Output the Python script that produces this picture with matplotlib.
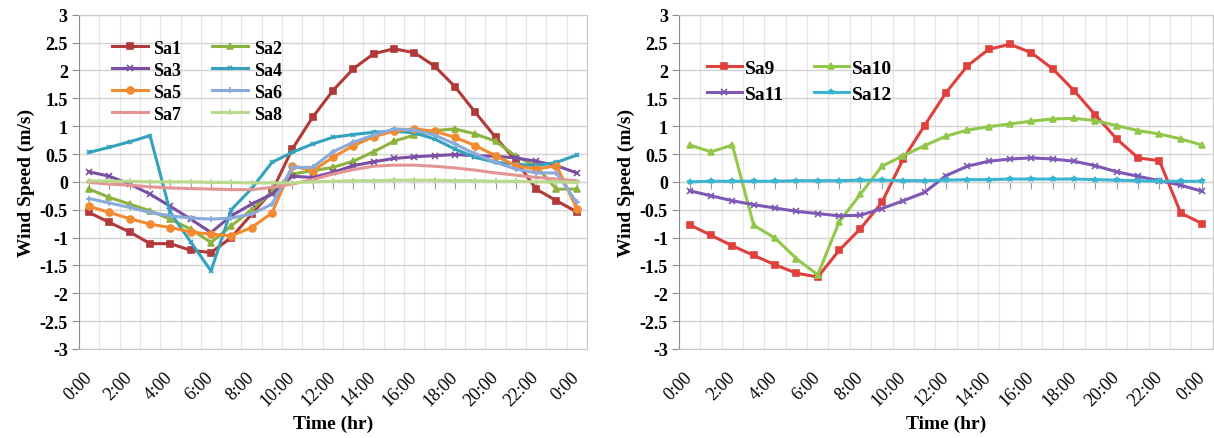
import numpy as np
import matplotlib
matplotlib.use("Agg")
import matplotlib.pyplot as plt
import matplotlib.transforms as mtransforms

plt.rcParams['font.family'] = ['Liberation Serif', 'DejaVu Serif']
plt.rcParams['axes.unicode_minus'] = False

hours = np.arange(25)
xtick_pos = list(range(0, 25, 2))
xtick_labels = ['0:00', '2:00', '4:00', '6:00', '8:00', '10:00', '12:00',
                '14:00', '16:00', '18:00', '20:00', '22:00', '0:00']
ytick_pos = [-3, -2.5, -2, -1.5, -1, -0.5, 0, 0.5, 1, 1.5, 2, 2.5, 3]
ytick_labels = ['-3', '-2.5', '-2', '-1.5', '-1', '-0.5', '0', '0.5', '1', '1.5', '2', '2.5', '3']

# left chart
sa1 = [-0.55, -0.73, -0.90, -1.11, -1.11, -1.23, -1.27, -1.00, -0.58, -0.17, 0.59, 1.16, 1.64,
       2.03, 2.30, 2.39, 2.32, 2.08, 1.71, 1.25, 0.80, 0.38, -0.13, -0.34, -0.54]
sa2 = [-0.13, -0.28, -0.40, -0.52, -0.67, -0.85, -1.09, -0.79, -0.50, -0.18, 0.14, 0.20, 0.26,
       0.37, 0.54, 0.73, 0.84, 0.92, 0.95, 0.86, 0.73, 0.46, 0.28, -0.13, -0.13]
sa3 = [0.18, 0.10, -0.04, -0.22, -0.44, -0.67, -0.91, -0.61, -0.40, -0.22, 0.10, 0.08, 0.17,
       0.29, 0.36, 0.42, 0.45, 0.47, 0.49, 0.47, 0.46, 0.43, 0.37, 0.29, 0.16]
sa4 = [0.53, 0.62, 0.72, 0.83, -0.55, -1.08, -1.60, -0.50, -0.12, 0.35, 0.53, 0.68, 0.80,
       0.85, 0.89, 0.91, 0.88, 0.77, 0.59, 0.44, 0.35, 0.32, 0.29, 0.35, 0.48]
sa5 = [-0.44, -0.55, -0.66, -0.76, -0.82, -0.90, -0.94, -0.97, -0.82, -0.56, 0.29, 0.20, 0.44,
       0.65, 0.81, 0.91, 0.95, 0.91, 0.80, 0.65, 0.47, 0.29, 0.23, 0.29, -0.48]
sa6 = [-0.30, -0.38, -0.46, -0.55, -0.61, -0.65, -0.67, -0.65, -0.58, -0.40, 0.26, 0.26, 0.54,
       0.71, 0.84, 0.95, 0.93, 0.84, 0.68, 0.50, 0.35, 0.23, 0.16, 0.16, -0.37]
sa7 = [-0.01, -0.04, -0.06, -0.09, -0.11, -0.12, -0.13, -0.14, -0.14, -0.10, -0.04, 0.04, 0.14,
       0.22, 0.28, 0.30, 0.30, 0.28, 0.25, 0.21, 0.16, 0.12, 0.08, 0.05, 0.02]
sa8 = [0.02, 0.01, 0.01, 0.0, 0.0, 0.0, -0.01, -0.01, -0.02, -0.02, -0.02, 0.0, 0.01,
       0.02, 0.02, 0.03, 0.03, 0.03, 0.02, 0.02, 0.01, 0.01, 0.0, 0.0, -0.01]

# right chart
sa9 = [-0.77, -0.96, -1.15, -1.32, -1.49, -1.64, -1.71, -1.23, -0.84, -0.37, 0.41, 1.01, 1.60,
       2.08, 2.38, 2.47, 2.32, 2.03, 1.64, 1.20, 0.77, 0.43, 0.38, -0.56, -0.75]
sa10 = [0.66, 0.54, 0.66, -0.78, -1.01, -1.38, -1.67, -0.72, -0.22, 0.28, 0.47, 0.65, 0.82,
        0.93, 0.99, 1.04, 1.09, 1.13, 1.14, 1.10, 1.01, 0.92, 0.86, 0.77, 0.66]
sa11 = [-0.16, -0.25, -0.34, -0.41, -0.47, -0.53, -0.57, -0.61, -0.60, -0.48, -0.34, -0.19, 0.11,
        0.28, 0.37, 0.41, 0.43, 0.41, 0.37, 0.29, 0.18, 0.10, 0.02, -0.06, -0.17]
sa12 = [0.0, 0.01, 0.01, 0.01, 0.01, 0.02, 0.02, 0.02, 0.03, 0.03, 0.02, 0.02, 0.03,
        0.04, 0.04, 0.05, 0.05, 0.05, 0.05, 0.04, 0.03, 0.02, 0.01, 0.01, 0.01]

left_series = [
    ('Sa1', sa1, '#b13a38', 's', 5),
    ('Sa2', sa2, '#8db33f', '^', 5),
    ('Sa3', sa3, '#7a4fa3', 'x', 4),
    ('Sa4', sa4, '#33a2bd', 'x', 3),
    ('Sa5', sa5, '#f28a30', 'o', 5),
    ('Sa6', sa6, '#89aadb', '+', 4),
    ('Sa7', sa7, '#e39495', '_', 4),
    ('Sa8', sa8, '#b9d98c', '+', 4),
]
right_series = [
    ('Sa9', sa9, '#e0403c', 's', 5),
    ('Sa10', sa10, '#92c84a', '^', 5),
    ('Sa11', sa11, '#7d58b5', 'x', 4),
    ('Sa12', sa12, '#3cb5d0', '*', 4),
]

fig = plt.figure(figsize=(12.14, 4.39), dpi=100)
ax1 = fig.add_axes([0.065, 0.203, 0.4185, 0.761])
ax2 = fig.add_axes([0.5593, 0.203, 0.4397, 0.761])


def style_axes(ax):
    ax.set_xlim(-0.5, 24.5)
    ax.set_ylim(-3, 3)
    ax.set_yticks(ytick_pos)
    ax.set_yticklabels(ytick_labels, fontsize=13, fontweight='bold')
    ax.set_xticks(xtick_pos)
    ax.set_xticklabels(xtick_labels, fontsize=13, rotation=45, ha='right')
    ax.set_xticks(np.arange(-0.5, 25, 1), minor=True)
    ax.tick_params(axis='x', which='both', length=0, pad=14)
    ax.tick_params(axis='y', length=5, color='#8c8c8c', pad=3)
    ax.grid(axis='y', which='major', color='#d4d4d4', lw=1.0)
    ax.grid(axis='x', which='minor', color='#e6e6e6', lw=0.9)
    ax.set_axisbelow(True)
    for s in ax.spines.values():
        s.set_color('#c8c8c8')
    ax.spines['left'].set_color('#8c8c8c')
    off = mtransforms.ScaledTranslation(6 / 100, 0, fig.dpi_scale_trans)
    for lab in ax.get_xticklabels():
        lab.set_transform(lab.get_transform() + off)
    # horizontal axis crossing at zero
    sec = ax.secondary_xaxis(0.5)
    sec.set_alignment('bottom')
    sec.set_xticks(hours)
    sec.tick_params(axis='x', length=5, color='#9a9a9a', labelbottom=False, labeltop=False)
    sec.spines['bottom'].set_color('#9a9a9a')
    ax.set_xlabel('Time (hr)', fontsize=14, fontweight='bold', labelpad=4)
    ax.set_ylabel('Wind Speed (m/s)', fontsize=14, fontweight='bold', labelpad=3)


handles = {}
for ax, series in ((ax1, left_series), (ax2, right_series)):
    style_axes(ax)
    for name, vals, col, mk, ms in series:
        line, = ax.plot(hours, vals, color=col, lw=2.2, marker=mk, markersize=ms,
                        markeredgewidth=1.2, label=name)
        handles[name] = line

# legend filled row by row like the original
left_order = ['Sa1', 'Sa3', 'Sa5', 'Sa7', 'Sa2', 'Sa4', 'Sa6', 'Sa8']
right_order = ['Sa9', 'Sa11', 'Sa10', 'Sa12']

ax1.legend([handles[n] for n in left_order], left_order,
           ncol=2, loc='upper left', bbox_to_anchor=(0.065, 0.926), frameon=False,
           borderpad=0, borderaxespad=0, handlelength=2.0, handletextpad=0.3,
           labelspacing=0.28, columnspacing=1.7,
           prop={'family': 'Liberation Serif', 'weight': 'bold', 'size': 13})
ax2.legend([handles[n] for n in right_order], right_order,
           ncol=2, loc='upper left', bbox_to_anchor=(0.052, 0.868), frameon=False,
           borderpad=0, borderaxespad=0, handlelength=1.8, handletextpad=0.15,
           labelspacing=0.45, columnspacing=1.55,
           prop={'family': 'Liberation Serif', 'weight': 'bold', 'size': 14})

fig.savefig('out.png', dpi=100)
